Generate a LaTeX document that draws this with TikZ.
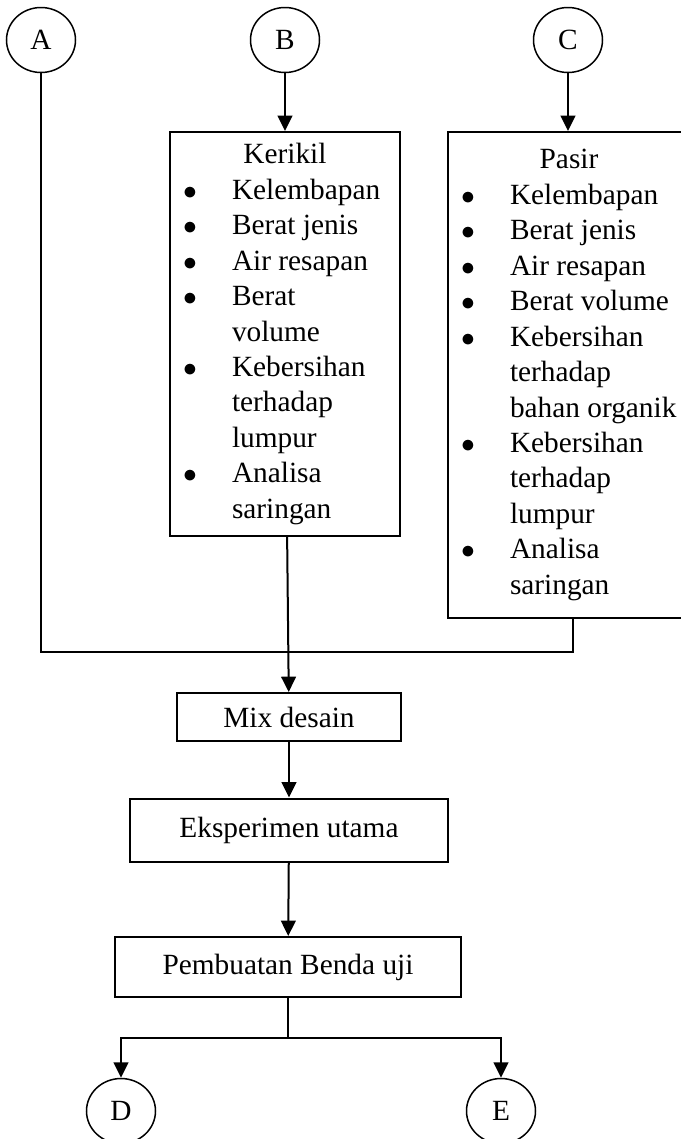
\documentclass[tikz,border=0pt]{standalone}
\usepackage{fontspec}
\setmainfont{Liberation Serif}
\usetikzlibrary{arrows.meta, positioning, calc, shapes.geometric}
\newlength{\px}
\setlength{\px}{0.75pt}
% list lines inside the two material boxes
\newcommand{\itm}[1]{\hspace*{13\px}\makebox[49\px][l]{$\bullet$}#1}
\newcommand{\cnt}[1]{\hspace*{62\px}#1}
\tikzset{
  font=\fontsize{22}{26.6}\selectfont,
  >={Triangle[length=11.5pt, width=11pt]},
  %
  conn/.style={draw, ellipse, line width=1.5\px, minimum width=69\px,
               minimum height=65\px, inner sep=0pt},
  listbox/.style={draw, rectangle, line width=2\px, inner sep=0pt, align=left},
  stepbox/.style={draw, rectangle, line width=2\px, inner sep=0pt, align=center},
  flow/.style={line width=2\px, ->},
  wire/.style={line width=2\px},
}
\begin{document}
\begin{tikzpicture}[x=\px, y=-\px]
  \useasboundingbox (0,0) rectangle (681,1139);

  % connectors in
  \node[conn] (A) at (41,40) {A};
  \node[conn] (B) at (285,40) {B};
  \node[conn] (C) at (568,40) {C};

  % tests on the aggregates
  \node[listbox, minimum width=230\px, minimum height=404\px, anchor=north]
    (kerikil) at (285,131) {\makebox[230\px]{Kerikil}\\
      \itm{Kelembapan}\\
      \itm{Berat jenis}\\
      \itm{Air resapan}\\
      \itm{Berat}\\
      \cnt{volume}\\
      \itm{Kebersihan}\\
      \cnt{terhadap}\\
      \cnt{lumpur}\\
      \itm{Analisa}\\
      \cnt{saringan}};
  \node[listbox, minimum width=240\px, minimum height=486\px, anchor=north west]
    (pasir) at (447,131) {\makebox[242\px]{Pasir}\\
      \itm{Kelembapan}\\
      \itm{Berat jenis}\\
      \itm{Air resapan}\\
      \itm{Berat volume}\\
      \itm{Kebersihan}\\
      \cnt{terhadap}\\
      \cnt{bahan organik}\\
      \itm{Kebersihan}\\
      \cnt{terhadap}\\
      \cnt{lumpur}\\
      \itm{Analisa}\\
      \cnt{saringan}};

  % main steps
  \node[stepbox, minimum width=224\px, minimum height=48\px] (mix) at (289,717) {Mix desain};
  \node[stepbox, minimum width=318\px, minimum height=63\px] (eksp) at (289,830) {Eksperimen utama};
  \node[stepbox, minimum width=346\px, minimum height=60\px] (benda) at (288,967) {Pembuatan Benda uji};

  % connectors out
  \node[conn] (D) at (121,1111) {D};
  \node[conn] (E) at (501,1111) {E};

  \coordinate (join) at (573,652);
  \coordinate (split) at (288,1038);

  \draw[flow] (B) -- (kerikil);
  \draw[flow] (C) -- (C |- pasir.north);
  \draw[wire] (A) |- (join) -- (join |- pasir.south);
  \draw[flow] (kerikil) -- (mix);
  \draw[flow] (mix) -- (eksp);
  \draw[flow] (eksp) -- (benda);
  \draw[wire] (benda) -- (split);
  \draw[flow] (split) -| (D);
  \draw[flow] (split) -| (E);

\end{tikzpicture}
\end{document}
